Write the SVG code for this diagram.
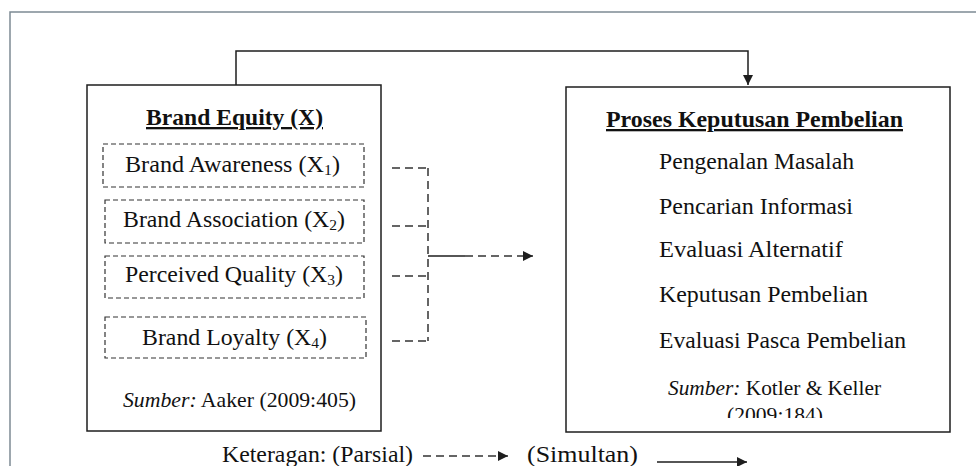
<svg xmlns="http://www.w3.org/2000/svg" width="976" height="466" viewBox="0 0 976 466">
  <style>
    .t { font-family: "Liberation Serif", "Times New Roman", serif; fill: #111111; }
    .r { font-size: 23px; }
    .b { font-size: 23px; font-weight: bold; text-decoration: underline; }
    .s { font-size: 21px; }
    .box { fill: #ffffff; stroke: #1e1e1e; stroke-width: 1.5; }
    .dbox { fill: none; stroke: #333; stroke-width: 1.2; stroke-dasharray: 5 3; }
    .ln { fill: none; stroke: #1e1e1e; stroke-width: 1.5; }
    .dl { fill: none; stroke: #333; stroke-width: 1.5; stroke-dasharray: 8 5; }
  </style>
  <defs>
    <marker id="arr" viewBox="0 0 10 10" refX="10" refY="5" markerWidth="10" markerHeight="10" markerUnits="userSpaceOnUse" orient="auto">
      <path d="M0,0 L10,5 L0,10 Z" fill="#1e1e1e"/>
    </marker>
    <clipPath id="clipRef">
      <rect x="566" y="380" width="384" height="38"/>
    </clipPath>
  </defs>
  <rect x="0" y="0" width="976" height="466" fill="#ffffff"/>
  <path d="M10,466 V12 H976" fill="none" stroke="#7d8b94" stroke-width="1.5"/>

  <g id="connectors">
    <path class="ln" d="M236,85 V51 H748 V85" marker-end="url(#arr)"/>
    <path class="dl" d="M392,168 H428"/>
    <path class="dl" d="M392,226 H428"/>
    <path class="dl" d="M392,276 H428" stroke="#777"/>
    <path class="dl" d="M392,341 H428"/>
    <path class="dl" d="M428,168 V341"/>
    <path class="ln" d="M428,256 H465"/>
    <path class="dl" d="M465,256 H533" marker-end="url(#arr)"/>
  </g>

  <g id="brand-equity">
    <rect class="box" x="87" y="85" width="294" height="346"/>
    <text class="t b" x="146" y="125" textLength="177" lengthAdjust="spacingAndGlyphs">Brand Equity (X)</text>
    <g id="x1">
      <rect class="dbox" x="103" y="144" width="261" height="43"/>
      <text class="t r" x="125" y="172" textLength="215" lengthAdjust="spacingAndGlyphs">Brand Awareness (X<tspan font-size="15" dy="3">1</tspan><tspan dy="-3">)</tspan></text>
    </g>
    <g id="x2">
      <rect class="dbox" x="105" y="200" width="259" height="43"/>
      <text class="t r" x="123" y="227" textLength="222" lengthAdjust="spacingAndGlyphs">Brand Association (X<tspan font-size="15" dy="3">2</tspan><tspan dy="-3">)</tspan></text>
    </g>
    <g id="x3">
      <rect class="dbox" x="105" y="256" width="259" height="42"/>
      <text class="t r" x="125" y="282" textLength="218" lengthAdjust="spacingAndGlyphs">Perceived Quality (X<tspan font-size="15" dy="3">3</tspan><tspan dy="-3">)</tspan></text>
    </g>
    <g id="x4">
      <rect class="dbox" x="105" y="317" width="261" height="41"/>
      <text class="t r" x="142" y="345" textLength="185" lengthAdjust="spacingAndGlyphs">Brand Loyalty (X<tspan font-size="15" dy="3">4</tspan><tspan dy="-3">)</tspan></text>
    </g>
    <text class="t s" x="123" y="407" textLength="233" lengthAdjust="spacingAndGlyphs"><tspan font-style="italic">Sumber:</tspan>  Aaker (2009:405)</text>
  </g>

  <g id="proses-keputusan">
    <rect class="box" x="566" y="87" width="384" height="345"/>
    <text class="t b" x="606" y="127" textLength="297" lengthAdjust="spacingAndGlyphs">Proses Keputusan Pembelian</text>
    <text class="t r" x="659" y="169" textLength="195" lengthAdjust="spacingAndGlyphs">Pengenalan Masalah</text>
    <text class="t r" x="659" y="214" textLength="194" lengthAdjust="spacingAndGlyphs">Pencarian Informasi</text>
    <text class="t r" x="659" y="257" textLength="184" lengthAdjust="spacingAndGlyphs">Evaluasi Alternatif</text>
    <text class="t r" x="659" y="302" textLength="209" lengthAdjust="spacingAndGlyphs">Keputusan Pembelian</text>
    <text class="t r" x="659" y="348" textLength="247" lengthAdjust="spacingAndGlyphs">Evaluasi Pasca Pembelian</text>
    <text class="t s" x="668" y="395" textLength="213" lengthAdjust="spacingAndGlyphs"><tspan font-style="italic">Sumber:</tspan>  Kotler &amp; Keller</text>
    <text class="t s" x="727" y="422" textLength="96" lengthAdjust="spacingAndGlyphs" clip-path="url(#clipRef)">(2009:184)</text>
  </g>

  <g id="legend">
    <text class="t r" x="222" y="462" textLength="191" lengthAdjust="spacingAndGlyphs">Keteragan: (Parsial)</text>
    <path class="dl" d="M423,456 H508" stroke-dasharray="6 4" marker-end="url(#arr)"/>
    <text class="t r" x="527" y="462" textLength="111" lengthAdjust="spacingAndGlyphs">(Simultan)</text>
    <path class="ln" d="M657,462 H747" marker-end="url(#arr)"/>
  </g>
</svg>
